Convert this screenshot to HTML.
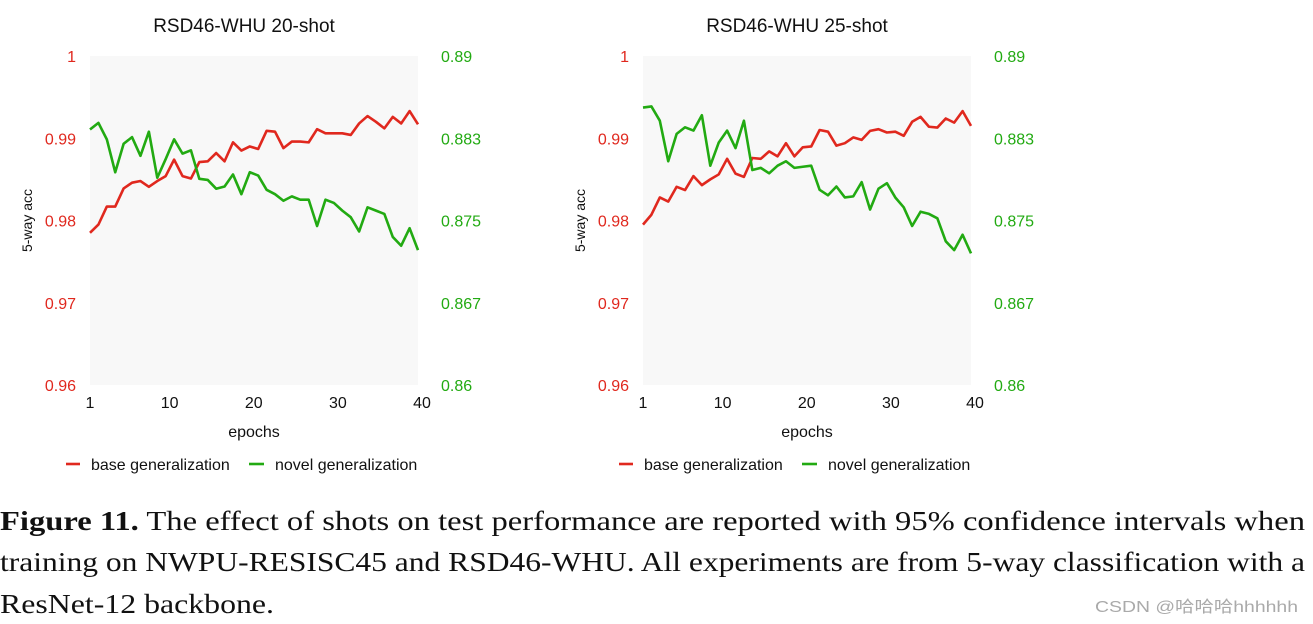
<!DOCTYPE html>
<html><head><meta charset="utf-8">
<style>
body{margin:0;width:1313px;height:624px;background:#fff;overflow:hidden;font-family:"Liberation Sans",sans-serif;}
svg{position:absolute;left:0;top:0;}
</style></head>
<body>
<svg id="fig" width="1313" height="624"></svg>
<script>
const epochs = Array.from({length:40},(_,i)=>i+1);
const xTicks = [1,10,20,30,40];
const leftTicks = [1,0.99,0.98,0.97,0.96];
const leftTickLabels = ["1","0.99","0.98","0.97","0.96"];
const rightTicks = [0.89,0.8825,0.875,0.8675,0.86];
const rightTickLabels = ["0.89","0.883","0.875","0.867","0.86"];
const base20 = [0.9785,0.9795,0.9817,0.9817,0.9839,0.9846,0.9848,0.9841,0.9848,0.9854,0.9874,0.9854,0.9851,0.9871,0.9872,0.9882,0.9872,0.9895,0.9885,0.9890,0.9887,0.9909,0.9908,0.9888,0.9896,0.9896,0.9895,0.9911,0.9906,0.9906,0.9906,0.9904,0.9918,0.9927,0.9920,0.9912,0.9926,0.9918,0.9933,0.9917];
const novel20 = [0.8833,0.8839,0.8824,0.8794,0.8820,0.8826,0.8809,0.8831,0.8789,0.8806,0.8824,0.8811,0.8814,0.8788,0.8787,0.8779,0.8781,0.8792,0.8774,0.8794,0.8791,0.8778,0.8774,0.8768,0.8772,0.8769,0.8769,0.8745,0.8769,0.8766,0.8759,0.8753,0.8740,0.8762,0.8759,0.8756,0.8735,0.8727,0.8743,0.8723];
const base25 = [0.9795,0.9807,0.9828,0.9823,0.9841,0.9837,0.9854,0.9843,0.9850,0.9856,0.9875,0.9857,0.9853,0.9876,0.9875,0.9884,0.9878,0.9894,0.9878,0.9889,0.9890,0.9910,0.9908,0.9891,0.9894,0.9901,0.9898,0.9909,0.9911,0.9907,0.9908,0.9903,0.9920,0.9926,0.9914,0.9913,0.9924,0.9919,0.9933,0.9915];
const novel25 = [0.8853,0.8854,0.8841,0.8804,0.8829,0.8835,0.8832,0.8846,0.8800,0.8821,0.8832,0.8816,0.8841,0.8796,0.8798,0.8793,0.8800,0.8804,0.8798,0.8799,0.8800,0.8778,0.8773,0.8781,0.8771,0.8772,0.8785,0.8760,0.8779,0.8784,0.8771,0.8762,0.8745,0.8758,0.8756,0.8752,0.8731,0.8723,0.8737,0.8720];

const NS="http://www.w3.org/2000/svg";
const svg=document.getElementById('fig');
function mk(tag,attrs,parent,text){const e=document.createElementNS(NS,tag);for(const k in attrs)e.setAttribute(k,attrs[k]);if(text!==undefined)e.textContent=text;(parent||svg).appendChild(e);return e;}
const RED="#e0281e",GREEN="#22aa12";
function chart(ox,title,base,novel,key){
  const g=mk('g',{});
  
  
  const L=ox,R=ox+328,T=56,B=385;
  const x=v=>L+(v-1)/39*(R-L);
  const yl=v=>T+(1-v)/0.04*(B-T);
  const yr=v=>T+(0.89-v)/0.03*(B-T);
  const bg=mk('rect',{x:L,y:T,width:R-L,height:B-T,fill:"#f8f8f8"},g);
  
  
  const t=mk('text',{x:(L+R)/2-10,y:32,'font-size':19,'text-anchor':'middle',fill:'#111'},g,title);
  
  
  leftTicks.forEach((v,i)=>{const e=mk('text',{x:L-14,y:yl(v)+6,'font-size':16,'text-anchor':'end',fill:RED},g,leftTickLabels[i]);
    
    });
  rightTicks.forEach((v,i)=>{const e=mk('text',{x:R+23,y:yr(v)+6,'font-size':16,'text-anchor':'start',fill:GREEN},g,rightTickLabels[i]);
    
    });
  xTicks.forEach(v=>{const e=mk('text',{x:x(v)+(v===1?0:4),y:408,'font-size':16,'text-anchor':'middle',fill:'#111'},g,String(v));
    
    });
  const xt=mk('text',{x:(L+R)/2,y:437,'font-size':16,'text-anchor':'middle',fill:'#111'},g,'epochs');
  
  
  const yt=mk('text',{x:0,y:0,'font-size':14,'text-anchor':'middle',fill:'#111',transform:`translate(${L-58},${(T+B)/2}) rotate(-90)`},g,'5-way acc');
  
  
  const p1=mk('polyline',{points:base.map((v,i)=>x(epochs[i])+','+yl(v)).join(' '),fill:'none',stroke:RED,'stroke-width':2.6,'stroke-linejoin':'round'},g);
  
  
  const p2=mk('polyline',{points:novel.map((v,i)=>x(epochs[i])+','+yr(v)).join(' '),fill:'none',stroke:GREEN,'stroke-width':2.6,'stroke-linejoin':'round'},g);
  
  
  const lg=mk('g',{},g);
  
  
  const e1=mk('g',{},lg);
  
  
  mk('line',{x1:ox-24,y1:464,x2:ox-10,y2:464,stroke:RED,'stroke-width':2.6},e1);
  mk('text',{x:ox+1,y:470,'font-size':16,fill:'#111'},e1,'base generalization');
  const e2=mk('g',{},lg);
  
  
  mk('line',{x1:ox+159,y1:464,x2:ox+174,y2:464,stroke:GREEN,'stroke-width':2.6},e2);
  mk('text',{x:ox+185,y:470,'font-size':16,fill:'#111'},e2,'novel generalization');
}
chart(90,'RSD46-WHU 20-shot',base20,novel20,'20-shot');
chart(643,'RSD46-WHU 25-shot',base25,novel25,'25-shot');

const cap=mk('g',{'font-family':'"Liberation Serif",serif','font-size':27,fill:'#111'});


const l1=mk('text',{x:0,y:530,textLength:1305,lengthAdjust:'spacingAndGlyphs'},cap);
mk('tspan',{'font-weight':'bold'},l1,'Figure 11.');
mk('tspan',{},l1,' The effect of shots on test performance are reported with 95% confidence intervals when');
mk('text',{x:0,y:571,textLength:1305,lengthAdjust:'spacingAndGlyphs'},cap,'training on NWPU-RESISC45 and RSD46-WHU. All experiments are from 5-way classification with a');
mk('text',{x:0,y:613,textLength:274,lengthAdjust:'spacingAndGlyphs'},cap,'ResNet-12 backbone.');
const wm=mk('text',{x:1095,y:612,'font-size':16,fill:'#aaa','font-family':'"Liberation Sans","Noto Sans CJK SC",sans-serif',textLength:203,lengthAdjust:'spacingAndGlyphs'},svg,'CSDN @哈哈哈hhhhhh');


</script>
</body></html>
